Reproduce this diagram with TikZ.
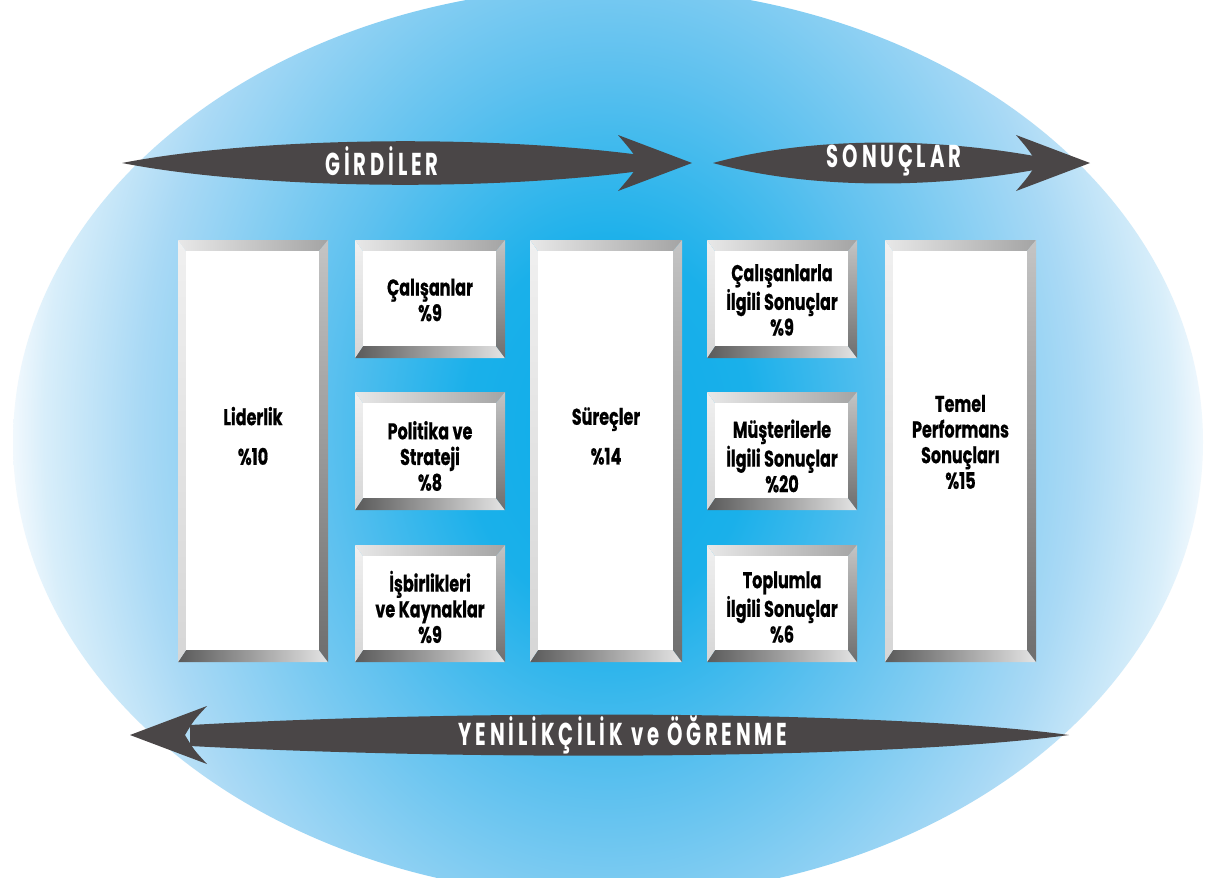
\documentclass[tikz,border=0pt]{standalone}
\usepackage{fontspec}
\newfontfamily\boxfont[FakeStretch=0.70,FakeBold=0.6]{Poppins}
\newfontfamily\arrfont[FakeStretch=0.62,LetterSpace=12]{Poppins}
\definecolor{cA}{HTML}{0DADE9}
\definecolor{cB}{HTML}{1AB0EA}
\definecolor{cC}{HTML}{5EC1EF}
\definecolor{cD}{HTML}{A9D9F5}
\definecolor{cE}{HTML}{D8EEFA}
\definecolor{cF}{HTML}{F5FAFE}
\definecolor{arrowc}{HTML}{4A4647}
\definecolor{bvTl}{HTML}{E8E8E8}
\definecolor{bvTr}{HTML}{A4A4A4}
\definecolor{bvBl}{HTML}{5A5A5A}
\definecolor{bvBr}{HTML}{E4E4E4}
\definecolor{bvLt}{HTML}{F0F0F0}
\definecolor{bvLb}{HTML}{D6D6D6}
\definecolor{bvRt}{HTML}{C4C4C4}
\definecolor{bvRb}{HTML}{6E6E6E}
\pgfdeclareradialshading{bgsh}{\pgfpoint{0bp}{0bp}}{color(0bp)=(cA); color(6bp)=(cB); color(12bp)=(cC); color(19.5bp)=(cD); color(23.5bp)=(cE); color(25bp)=(cF); color(50bp)=(cF)}
\tikzset{
  boxtext/.style={align=center, inner sep=0pt, text=black,
    font=\boxfont\bfseries\fontsize{13}{14.6}\selectfont},
  arrtext/.style={inner sep=0pt, text=white,
    font=\arrfont\bfseries\fontsize{18}{20}\selectfont},
  arrowfill/.style={fill=arrowc}
}
% #1 name, #2 x1, #3 y1, #4 x2, #5 y2, #6 text y, #7 text
\newcommand\bevbox[7]{%
  \shade[left color=bvTl, right color=bvTr] (#2,#3) -- (#4,#3) -- ({#4-9},{#3+11}) -- ({#2+8},{#3+11}) -- cycle;
  \shade[left color=bvBl, right color=bvBr] (#2,#5) -- (#4,#5) -- ({#4-9},{#5-12}) -- ({#2+8},{#5-12}) -- cycle;
  \shade[top color=bvLt, bottom color=bvLb] (#2,#3) -- ({#2+8},{#3+11}) -- ({#2+8},{#5-12}) -- (#2,#5) -- cycle;
  \shade[top color=bvRt, bottom color=bvRb] (#4,#3) -- ({#4-9},{#3+11}) -- ({#4-9},{#5-12}) -- (#4,#5) -- cycle;
  \fill[white] ({#2+8},{#3+11}) rectangle ({#4-9},{#5-12});
  \node[boxtext] (#1) at ({(#2+#4)/2},#6) {#7};
}
\begin{document}
\begin{tikzpicture}[x=0.02cm,y=-0.02cm]
\useasboundingbox (0,0) rectangle (1224,877);
\fill[white] (0,0) rectangle (1224,877);
% background ellipse
\begin{scope}
  \clip (608,442) ellipse [x radius=595, y radius=455];
  \shade[shading=bgsh] (608,430) ellipse [x radius=600, y radius=760];
\end{scope}
% top-left arrow GIRDILER
\fill[arrowfill] (122,163) .. controls (250,138) and (480,133) .. (648,156) -- (648,170) .. controls (480,193) and (250,188) .. (122,163) -- cycle;
\fill[arrowfill] (618,135) -- (692,163) -- (618,191) .. controls (630,177) .. (640,163) .. controls (630,149) .. (618,135) -- cycle;
\node[arrtext] (girdi) at (382,161) {GİRDİLER};
% top-right arrow SONUCLAR
\fill[arrowfill] (713,163) .. controls (800,139) and (920,135) .. (1040,157) -- (1040,169) .. controls (920,191) and (800,187) .. (713,163) -- cycle;
\fill[arrowfill] (1016,135) -- (1090,163) -- (1016,191) .. controls (1028,177) .. (1037,163) .. controls (1028,149) .. (1016,135) -- cycle;
\node[arrtext] (sonuc) at (894,161) {SONUÇLAR};
% bottom arrow
\fill[arrowfill] (1069,735) .. controls (900,712) and (500,708) .. (190,725) -- (190,746) .. controls (500,762) and (900,758) .. (1069,735) -- cycle;
\fill[arrowfill] (207,706) -- (130,735) -- (207,764) .. controls (194,750) .. (185,735) .. controls (194,720) .. (207,706) -- cycle;
\node[arrtext] (yenilik) at (623,735) {YENİLİKÇİLİK ve ÖĞRENME};
% boxes
\bevbox{lid}{178}{240}{328}{662}{436}{Liderlik\\[8pt]\%10}
\bevbox{cal}{355}{240}{505}{358}{300}{Çalışanlar\\\%9}
\bevbox{pol}{355}{392}{505}{510}{456}{Politika ve\\Strateji\\\%8}
\bevbox{isb}{355}{545}{505}{662}{607}{İşbirlikleri\\ve Kaynaklar\\\%9}
\bevbox{sur}{530}{240}{682}{662}{436}{Süreçler\\[8pt]\%14}
\bevbox{cis}{707}{240}{857}{358}{300}{Çalışanlarla\\İlgili Sonuçlar\\\%9}
\bevbox{mus}{707}{392}{857}{510}{456}{Müşterilerle\\İlgili Sonuçlar\\\%20}
\bevbox{top}{707}{545}{857}{662}{607}{Toplumla\\İlgili Sonuçlar\\\%6}
\bevbox{tem}{885}{240}{1036}{662}{442}{Temel\\Performans\\Sonuçları\\\%15}
\end{tikzpicture}
\end{document}
